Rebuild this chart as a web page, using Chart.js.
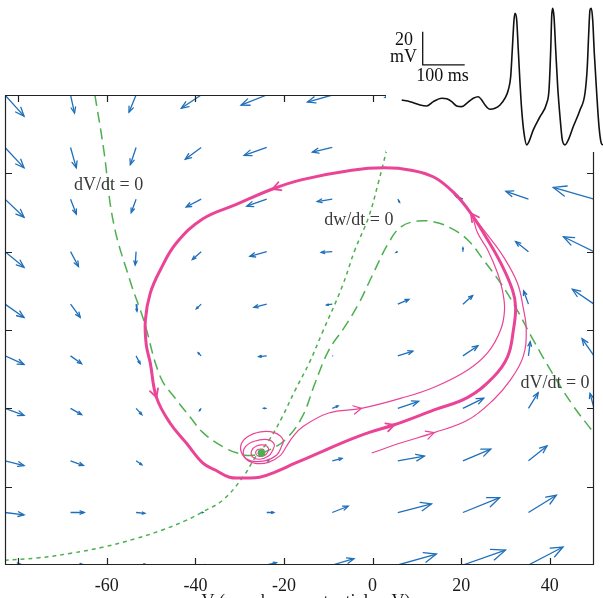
<!DOCTYPE html>
<html><head><meta charset="utf-8">
<script src="https://cdn.jsdelivr.net/npm/chart.js@4"></script>
<style>
html,body{margin:0;padding:0;background:#fff;}
#wrap{position:relative;width:603px;height:598px;overflow:hidden;background:#fff;}
#main{position:absolute;left:0;top:0;}
#inset{position:absolute;left:386px;top:0;background:#fff;}
</style></head><body>
<div id="wrap">
<canvas id="main" width="603" height="598"></canvas>
<canvas id="inset" width="217" height="152"></canvas>
</div>
<script>
// ---------- data ----------
const xTicks = [-80, -60, -40, -20, 0, 20, 40];
const xTickLabels = ['', '-60', '-40', '-20', '0', '20', '40'];
const yTicks = [0.1, 0.2, 0.3, 0.4, 0.5];

// quiver grid (V in mV, w)
const gridV = [-83, -68.2, -53.4, -38.7, -23.9, -9.1, 5.7, 20.4, 35.2, 50];
const gridW = [0.6, 0.533, 0.467, 0.4, 0.333, 0.267, 0.2, 0.133, 0.067, 0];
const quiverDV = [
  [4.3, 0.9, -1.6, -4.5, -5.8, -5.6, -2.9, -6.7, -9.0, -11.2],
  [4.3, 1.3, -1.3, -3.6, -5.1, -4.5, -0.7, -3.4, -6.7, -10.0],
  [4.3, 1.3, -1.1, -3.4, -4.5, -3.4, 0.4, -1.8, -5.1, -9.2],
  [4.3, 1.8, -0.2, -2.0, -3.8, -2.5, -0.4, 0.0, -2.9, -6.9],
  [4.3, 2.2, 0.2, -1.1, -2.9, -1.3, 2.5, 2.2, -1.1, -4.9],
  [4.3, 2.5, 0.9, -0.7, -1.8, 0.2, 3.4, 3.4, 0.4, -2.7],
  [4.3, 2.5, 1.3, -0.4, -0.7, 1.3, 4.7, 4.7, 2.2, -0.9],
  [4.3, 2.9, 1.3, 0.0, 0.4, 2.2, 6.0, 6.3, 4.2, 2.2],
  [4.3, 3.1, 2.0, 0.4, 1.6, 3.6, 7.6, 8.3, 6.3, 4.5],
  [4.0, 3.1, 2.5, 1.1, 2.2, 4.9, 8.7, 9.6, 7.8, 6.7]
];
const quiverDW = [
  [-0.027, -0.023, -0.022, -0.017, -0.013, -0.009, -0.003, 0.003, 0.006, 0.010],
  [-0.026, -0.026, -0.022, -0.015, -0.010, -0.006, -0.001, 0.004, 0.010, 0.015],
  [-0.023, -0.019, -0.017, -0.010, -0.009, -0.003, -0.004, 0.005, 0.010, 0.015],
  [-0.020, -0.019, -0.017, -0.010, -0.006, -0.001, -0.001, 0.005, 0.013, 0.019],
  [-0.017, -0.017, -0.009, -0.006, -0.004, -0.001, 0.006, 0.011, 0.017, 0.019],
  [-0.011, -0.010, -0.010, 0.004, -0.001, 0.000, 0.006, 0.013, 0.018, 0.022],
  [-0.009, -0.008, -0.008, -0.003, 0.000, 0.003, 0.009, 0.013, 0.020, 0.019],
  [-0.006, -0.006, -0.005, 0.000, 0.000, 0.003, 0.006, 0.015, 0.019, 0.019],
  [-0.003, 0.000, -0.001, 0.000, 0.000, 0.008, 0.011, 0.019, 0.022, 0.022],
  [0, 0, 0, 0, 0.003, 0.008, 0.014, 0.019, 0.023, 0.023]
];

// dV/dt = 0 nullcline
const vNullV = [-62.7,-60.7,-58.5,-54.6,-51.7,-47.9,-44.3,-41.2,-38.3,-33.8,-30.0,-27.1,-23.3,-19.7,-15.9,-13.0,-9.9,-6.3,-3.1,-0.2,3.6,6.5,10.3,13.9,17.7,21.5,25.1,28.9,32.3,36.3,40.8,45.2,49.5];
const vNullW = [0.600,0.530,0.437,0.360,0.313,0.240,0.211,0.189,0.169,0.151,0.142,0.140,0.147,0.160,0.189,0.232,0.274,0.304,0.334,0.368,0.411,0.432,0.439,0.438,0.430,0.415,0.389,0.360,0.329,0.287,0.243,0.204,0.172];
// dw/dt = 0 nullcline
const wNullV = [-83.1,-75.7,-68.1,-60.7,-53.3,-47.3,-42.1,-38.3,-33.8,-29.3,-26.4,-23.3,-20.4,-17.5,-14.3,-11.4,-6.9,-4.0,-0.9,1.3,3.2];
const wNullW = [0.006,0.009,0.015,0.023,0.034,0.045,0.057,0.068,0.083,0.112,0.138,0.160,0.189,0.223,0.258,0.296,0.355,0.402,0.444,0.488,0.530];

// limit cycle (thick)
const cycleV = [-29.3,-25.5,-21.9,-17.5,-12.1,-6.9,-0.9,4.9,13.9,21.5,27.3,30.5,31.8,32.3,31.6,28.9,26.0,22.2,18.4,13.9,8.7,2.7,-4.7,-15.9,-22.6,-30.9,-38.3,-44.3,-47.9,-50.2,-51.3,-51.1,-50.2,-48.8,-45.7,-42.1,-38.3,-35.4,-32.3,-29.3];
const cycleW = [0.111,0.112,0.119,0.130,0.143,0.156,0.169,0.179,0.198,0.214,0.240,0.266,0.300,0.329,0.351,0.386,0.415,0.449,0.475,0.495,0.504,0.507,0.504,0.492,0.480,0.460,0.442,0.411,0.377,0.347,0.313,0.281,0.258,0.214,0.181,0.156,0.130,0.121,0.112,0.111];
// trajectory starting right of the rest state (thin, outer)
const trajAV = [-0.2,6.5,13.9,21.5,27.3,31.1,34.0,34.7,34.0,32.7,29.6,26.0,22.2,18.4];
const trajAW = [0.143,0.156,0.169,0.185,0.211,0.236,0.266,0.300,0.329,0.360,0.393,0.421,0.449,0.475];
// trajectory spiralling out of the rest state (thin, inner)
const trajBV = [-24.4,-24.9,-26.0,-26.4,-25.8,-24.4,-23.7,-23.5,-24.4,-26.2,-27.3,-27.1,-25.5,-23.5,-22.6,-22.2,-23.7,-26.7,-28.7,-29.1,-27.5,-24.4,-21.7,-20.6,-20.2,-22.2,-25.3,-28.4,-29.8,-28.9,-26.7,-23.5,-20.8,-19.5,-18.1,-15.9,-9.9,-2.5,6.5,13.9,21.5,26.0,28.9,29.8,29.3,28.2,26.0,23.7,22.2,18.4];
const trajBW = [0.146,0.148,0.147,0.143,0.139,0.140,0.144,0.149,0.153,0.152,0.146,0.138,0.135,0.139,0.146,0.154,0.160,0.158,0.151,0.140,0.133,0.133,0.140,0.151,0.160,0.169,0.170,0.163,0.151,0.137,0.130,0.131,0.140,0.151,0.163,0.176,0.194,0.200,0.213,0.227,0.249,0.271,0.300,0.326,0.351,0.373,0.402,0.424,0.449,0.475];
// rest state
const restV = [-25.1];
const restW = [0.143];
// direction markers on the trajectories: [series, point index]
const cycleMarks = [7, 17, 24, 33];
const trajAMarks = [2];
const trajBMarks = [37];

// annotations
const noteText = ['dV/dt = 0', 'dw/dt = 0', 'dV/dt = 0'];
const noteV = [-59.6, -3.1, 41.2];
const noteW = [0.485, 0.440, 0.232];
const xTitle = 'V (membrane potential, mV)';

// inset voltage trace (time in ms, V in mV)
const traceT = [0,19.8,43.6,59.5,75.2,95.2,107.1,119.1,131.0,142.9,154.8,170.5,182.4,190.5,198.3,210.2,222.1,234.1,246.0,253.8,259.5,263.3,267.4,269.8,273.8,277.6,281.7,285.7,291.2,297.6,303.1,313.3,329.3,345.2,350.7,354.8,357.1,359.5,362.6,366.7,371.4,376.9,382.4,388.8,396.7,408.6,424.5,436.4,441.9,445.3,448.3,451.4,454.8,458.6,464.3,469.8,475.3,479.3];
const traceV = [-22.8,-23.8,-25.8,-26.4,-23.8,-21.7,-22.1,-23.8,-26.4,-26.8,-24.8,-21.7,-20.8,-22.8,-25.8,-28.4,-27.8,-25.8,-21.7,-16.7,-8.6,7.5,25.7,29.8,25.7,7.5,-12.6,-28.8,-42.9,-50.0,-48.0,-40.9,-32.9,-24.8,-16.7,7.5,27.7,32.8,27.7,7.5,-14.7,-32.9,-47.0,-50.0,-47.0,-38.9,-28.8,-18.7,-2.6,17.7,31.8,32.8,25.7,5.5,-18.7,-38.9,-49.0,-50.0];
const barT = [50, 150];      // 100 ms
const barV = [-1.5, 18.5];   // 20 mV

// ---------- styles ----------
const BLUE = '#1f6fba';
const PINK = '#ea4496';
const GREEN = '#4cb04f';
const SERIF = '"Liberation Serif", "DejaVu Serif", serif';

const zip = (a, b) => a.map((v, i) => ({x: v, y: b[i]}));

const quiverData = [];
for (let r = 0; r < gridW.length; r++) {
  for (let c = 0; c < gridV.length; c++) {
    quiverData.push({x: gridV[c], y: gridW[r]});
    quiverData.push({x: gridV[c] + quiverDV[r][c], y: gridW[r] + quiverDW[r][c]});
    quiverData.push({x: gridV[c], y: null});
  }
}

function chevron(ctx, px, py, ang, size, half) {
  ctx.beginPath();
  ctx.moveTo(px - size * Math.cos(ang - half), py - size * Math.sin(ang - half));
  ctx.lineTo(px, py);
  ctx.lineTo(px - size * Math.cos(ang + half), py - size * Math.sin(ang + half));
  ctx.stroke();
}

const decoPlugin = {
  id: 'deco',
  beforeDatasetsDraw(chart) {
    const {ctx, chartArea: a, scales: {x, y}} = chart;
    ctx.save();
    ctx.beginPath(); ctx.rect(a.left, a.top, a.right - a.left, a.bottom - a.top); ctx.clip();
    ctx.strokeStyle = BLUE; ctx.lineWidth = 1.3; ctx.lineCap = 'round';
    for (let r = 0; r < gridW.length; r++) {
      for (let c = 0; c < gridV.length; c++) {
        const x0 = x.getPixelForValue(gridV[c]), y0 = y.getPixelForValue(gridW[r]);
        const x1 = x.getPixelForValue(gridV[c] + quiverDV[r][c]), y1 = y.getPixelForValue(gridW[r] + quiverDW[r][c]);
        const L = Math.hypot(x1 - x0, y1 - y0);
        if (L < 1) continue;
        chevron(ctx, x1, y1, Math.atan2(y1 - y0, x1 - x0), 0.33 * L, 22 * Math.PI / 180);
      }
    }
    ctx.restore();
  },
  afterDatasetsDraw(chart) {
    const {ctx, chartArea: a, scales: {x, y}} = chart;
    ctx.save();
    // direction markers on trajectories
    ctx.strokeStyle = PINK; ctx.lineCap = 'round'; ctx.lineJoin = 'round';
    const mark = (vs, ws, idxs, lw) => {
      ctx.lineWidth = lw;
      idxs.forEach(i => {
        const px = x.getPixelForValue(vs[i]), py = y.getPixelForValue(ws[i]);
        const qx = x.getPixelForValue(vs[i + 1]), qy = y.getPixelForValue(ws[i + 1]);
        const bx = x.getPixelForValue(vs[i - 1]), by = y.getPixelForValue(ws[i - 1]);
        chevron(ctx, px, py, Math.atan2(qy - by, qx - bx), 9, 28 * Math.PI / 180);
      });
    };
    mark(cycleV, cycleW, cycleMarks, 1.8);
    mark(trajAV, trajAW, trajAMarks, 1.2);
    mark(trajBV, trajBW, trajBMarks, 1.2);

    // axes box
    ctx.strokeStyle = '#222'; ctx.lineWidth = 1.2; ctx.lineCap = 'butt';
    ctx.strokeRect(a.left + 0.5, a.top + 0.5, a.right - a.left - 1, a.bottom - a.top - 1);
    ctx.beginPath();
    xTicks.forEach(v => {
      const px = Math.round(x.getPixelForValue(v)) + 0.5;
      ctx.moveTo(px, a.bottom); ctx.lineTo(px, a.bottom - 7);
      ctx.moveTo(px, a.top); ctx.lineTo(px, a.top + 7);
    });
    yTicks.forEach(v => {
      const py = Math.round(y.getPixelForValue(v)) + 0.5;
      ctx.moveTo(a.left, py); ctx.lineTo(a.left + 7, py);
      ctx.moveTo(a.right, py); ctx.lineTo(a.right - 7, py);
    });
    ctx.stroke();
    // tick labels
    ctx.fillStyle = '#1a1a1a'; ctx.font = '18px ' + SERIF;
    ctx.textAlign = 'center'; ctx.textBaseline = 'alphabetic';
    xTicks.forEach((v, i) => { if (xTickLabels[i]) ctx.fillText(xTickLabels[i], x.getPixelForValue(v), 591); });
    // axis title (mostly cut off by the frame edge)
    ctx.fillText(xTitle, 306, 607);
    // nullcline labels
    ctx.fillStyle = '#3a3a3a'; ctx.textBaseline = 'middle';
    noteText.forEach((t, i) => ctx.fillText(t, x.getPixelForValue(noteV[i]), y.getPixelForValue(noteW[i])));
    ctx.restore();
  }
};

new Chart(document.getElementById('main'), {
  type: 'scatter',
  data: {datasets: [
    {label: 'rest', data: zip(restV, restW), pointRadius: 3.5, pointBackgroundColor: GREEN, pointBorderColor: GREEN, showLine: false, order: 0},
    {label: 'trajA', data: zip(trajAV, trajAW), showLine: true, borderColor: PINK, borderWidth: 1.2, pointRadius: 0, tension: 0.4, order: 1},
    {label: 'trajB', data: zip(trajBV, trajBW), showLine: true, borderColor: PINK, borderWidth: 1.2, pointRadius: 0, tension: 0.4, order: 1},
    {label: 'cycle', data: zip(cycleV, cycleW), showLine: true, borderColor: PINK, borderWidth: 3, pointRadius: 0, tension: 0.4, order: 2},
    {label: 'Vnull', data: zip(vNullV, vNullW), showLine: true, borderColor: GREEN, borderWidth: 1.5, borderDash: [11, 6], pointRadius: 0, tension: 0.4, order: 3},
    {label: 'wnull', data: zip(wNullV, wNullW), showLine: true, borderColor: GREEN, borderWidth: 1.5, borderDash: [4, 4], pointRadius: 0, tension: 0.4, order: 3},
    {label: 'quiver', data: quiverData, showLine: true, spanGaps: false, borderColor: BLUE, borderWidth: 1.3, pointRadius: 0, order: 4}
  ]},
  options: {
    responsive: false, animation: false, events: [],
    layout: {padding: {left: 0, top: 95, right: 9, bottom: 33}},
    scales: {
      x: {type: 'linear', min: -83, max: 50, display: false},
      y: {type: 'linear', min: 0, max: 0.6, display: false}
    },
    plugins: {legend: {display: false}, tooltip: {enabled: false}}
  },
  plugins: [decoPlugin]
});

const insetPlugin = {
  id: 'insetDeco',
  afterDatasetsDraw(chart) {
    const {ctx, scales: {x, y}} = chart;
    ctx.save();
    ctx.strokeStyle = '#111'; ctx.lineWidth = 1.3;
    ctx.beginPath();
    ctx.moveTo(x.getPixelForValue(barT[0]), y.getPixelForValue(barV[1]));
    ctx.lineTo(x.getPixelForValue(barT[0]), y.getPixelForValue(barV[0]));
    ctx.lineTo(x.getPixelForValue(barT[1]), y.getPixelForValue(barV[0]));
    ctx.stroke();
    ctx.fillStyle = '#111'; ctx.font = '18px ' + SERIF; ctx.textBaseline = 'middle';
    ctx.textAlign = 'right';
    ctx.fillText('20', x.getPixelForValue(27), y.getPixelForValue(13.6));
    ctx.fillText('mV', x.getPixelForValue(36.4), y.getPixelForValue(3.3));
    ctx.textAlign = 'center';
    ctx.fillText('100 ms', x.getPixelForValue(97), y.getPixelForValue(-8.2));
    ctx.restore();
  }
};

new Chart(document.getElementById('inset'), {
  type: 'line',
  data: {datasets: [{data: zip(traceT, traceV), borderColor: '#111', borderWidth: 1.6, pointRadius: 0, cubicInterpolationMode: 'monotone'}]},
  options: {
    responsive: false, animation: false, events: [],
    layout: {padding: 0},
    scales: {
      x: {type: 'linear', min: -37.4, max: 479.3, display: false},
      y: {type: 'linear', min: -54.3, max: 37.8, display: false}
    },
    plugins: {legend: {display: false}, tooltip: {enabled: false}}
  },
  plugins: [insetPlugin]
});
</script>
</body></html>
